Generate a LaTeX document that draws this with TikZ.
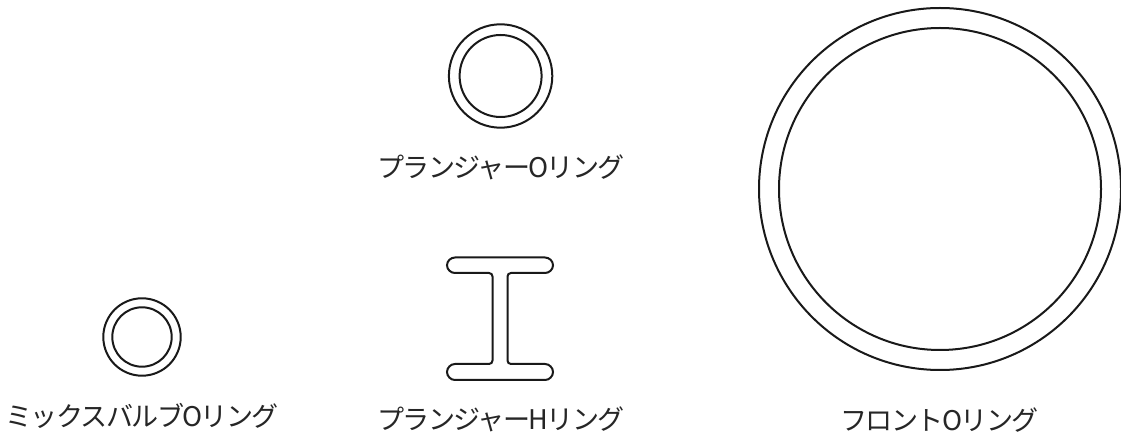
\documentclass[tikz,border=0pt]{standalone}
\usepackage{fontspec}
\newfontfamily\cjk[LetterSpace=-6]{Noto Sans CJK JP}
\tikzset{ringline/.style={draw=black!90,line width=1.5pt,fill=none},
lab/.style={font=\cjk\fontsize{20.3pt}{22pt}\selectfont,text=black!85,inner sep=0pt,anchor=center}}
\begin{document}
\begin{tikzpicture}[x=0.75pt,y=-0.75pt]
\useasboundingbox (0,0) rectangle (1121,434);
\fill[white] (0,0) rectangle (1121,434);
\draw[ringline] (500.6,76) circle[radius=51.7];
\draw[ringline] (500.6,76) circle[radius=41];
\draw[ringline] (142,337) circle[radius=38.7];
\draw[ringline] (142,337) circle[radius=29.7];
\draw[ringline] (940,189) circle[radius=181];
\draw[ringline] (940,189) circle[radius=161];
\draw[ringline] (455,257.5) -- (545,257.5)
 .. controls (549.3,257.5) and (553,261) .. (553,265.25)
 .. controls (553,269.5) and (549.3,273) .. (545,273)
 -- (511,273) .. controls (509,273) and (507.5,274.5) .. (507.5,276.5)
 -- (507.5,360.5) .. controls (507.5,362.5) and (509,364) .. (511,364)
 -- (545,364) .. controls (549.3,364) and (553,367.7) .. (553,372)
 .. controls (553,376.3) and (549.3,380) .. (545,380)
 -- (455,380) .. controls (450.7,380) and (447,376.3) .. (447,372)
 .. controls (447,367.7) and (450.7,364) .. (455,364)
 -- (489,364) .. controls (491,364) and (492.5,362.5) .. (492.5,360.5)
 -- (492.5,276.5) .. controls (492.5,274.5) and (491,273) .. (489,273)
 -- (455,273) .. controls (450.7,273) and (447,269.5) .. (447,265.25)
 .. controls (447,261) and (450.7,257.5) .. (455,257.5) -- cycle;
\node[lab] (a) at (501,167) {プランジャーOリング};
\node[lab] (b) at (142,416) {ミックスバルブOリング};
\node[lab] (c) at (501,419) {プランジャーHリング};
\node[lab] (d) at (939.5,420) {フロントOリング};
\end{tikzpicture}
\end{document}
